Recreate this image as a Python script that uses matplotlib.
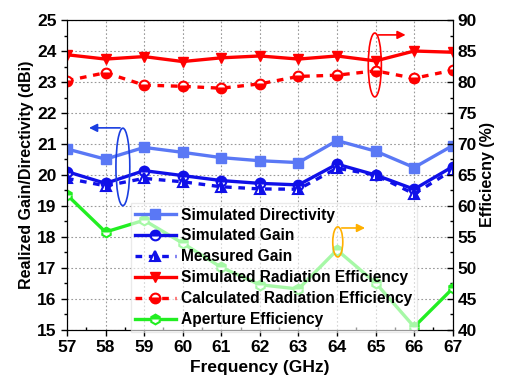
import numpy as np
import matplotlib
matplotlib.use("Agg")
import matplotlib.pyplot as plt
from matplotlib.patches import Ellipse

plt.rcParams['font.family'] = ['Liberation Sans', 'DejaVu Sans']
plt.rcParams['font.weight'] = 'bold'

freq = [57, 58, 59, 60, 61, 62, 63, 64, 65, 66, 67]

# left axis (dBi)
sim_dir = [20.84, 20.51, 20.89, 20.73, 20.56, 20.46, 20.40, 21.11, 20.77, 20.24, 20.95]
sim_gain = [20.11, 19.73, 20.14, 19.98, 19.82, 19.73, 19.68, 20.35, 20.00, 19.54, 20.27]
meas_gain = [19.89, 19.65, 19.89, 19.78, 19.62, 19.55, 19.54, 20.22, 20.00, 19.39, 20.16]

# right axis (%)
sim_rad_eff = [84.4, 83.7, 84.1, 83.3, 83.9, 84.2, 83.7, 84.2, 83.4, 85.0, 84.8]
calc_rad_eff = [80.2, 81.5, 79.5, 79.3, 79.0, 79.7, 80.9, 81.1, 81.8, 80.6, 81.9]
ap_eff = [61.8, 55.8, 57.7, 54.0, 50.1, 47.3, 46.6, 52.9, 47.6, 40.5, 46.7]

fig = plt.figure(figsize=(5.07, 3.85), dpi=100)
ax = fig.add_axes([0.132, 0.143, 0.761, 0.805])
ax2 = ax.twinx()

lw = 2.4
ms = 7
l1, = ax.plot(freq, sim_dir, color='#5a78f5', lw=lw, marker='s', ms=ms,
              label='Simulated Directivity')
l2, = ax.plot(freq, sim_gain, color='#1010e8', lw=lw, marker='o', ms=ms,
              fillstyle='top', markerfacecoloralt='white', mew=1.5,
              label='Simulated Gain')
l3, = ax.plot(freq, meas_gain, color='#1010e8', lw=lw, ls=(0, (2, 2)), marker='^', ms=ms,
              fillstyle='right', markerfacecoloralt='white', mew=1.5,
              label='Measured Gain')
l4, = ax2.plot(freq, sim_rad_eff, color='#ff0000', lw=lw, marker='v', ms=ms,
               label='Simulated Radiation Efficiency')
l5, = ax2.plot(freq, calc_rad_eff, color='#ff0000', lw=lw, ls=(0, (2, 2)), marker='o', ms=ms,
               fillstyle='bottom', markerfacecoloralt='white', mew=1.5,
               label='Calculated Radiation Efficiency')
l6, = ax2.plot(freq, ap_eff, color='#22ee22', lw=lw, marker='h', ms=ms,
               fillstyle='top', markerfacecoloralt='white', mew=1.5,
               label='Aperture Efficiency')

ax.set_xlim(57, 67)
ax.set_ylim(15, 25)
ax2.set_ylim(40, 90)
ax.set_xticks(range(57, 68))
ax.set_yticks(range(15, 26))
ax2.set_yticks(range(40, 91, 5))
ax.set_xticks(np.arange(57.5, 67, 1), minor=True)
ax.set_yticks(np.arange(15.5, 25, 1), minor=True)
ax2.set_yticks(np.arange(42.5, 90, 5), minor=True)

ax.grid(True, which='major', ls=(0, (1.5, 2)), color='#999999', lw=0.8)
ax.tick_params(axis='both', which='major', labelsize=12.5, length=4, width=1, direction='out')
ax.tick_params(axis='y', which='minor', length=2.5, width=1, direction='out')
ax.tick_params(axis='x', which='minor', length=2.5, width=1, direction='in')
ax2.tick_params(axis='y', which='major', labelsize=12.5, length=4, width=1, direction='in')
ax2.tick_params(axis='y', which='minor', length=2.5, width=1, direction='in')

ax.set_xlabel('Frequency (GHz)', fontsize=12.5, fontweight='bold', labelpad=3)
ax.set_ylabel('Realized Gain/Directivity (dBi)', fontsize=11.5, fontweight='bold', labelpad=2)
ax2.set_ylabel('Efficiecny (%)', fontsize=11.5, fontweight='bold', labelpad=2)

leg = ax2.legend(handles=[l1, l2, l3, l4, l5, l6], loc='upper left',
                 bbox_to_anchor=(0.165, 0.41), fontsize=11.2, handlelength=2.6,
                 labelspacing=0.38, borderpad=0.3, handletextpad=0.35,
                 borderaxespad=0.0,
                 fancybox=False, framealpha=0.6, edgecolor='#dddddd')
leg.set_zorder(5)

# annotation ellipses and arrows (drawn in left-axis data coords)
ann = [
    # (xc, yc, w, h, color, x0, x1, ya)
    (58.45, 20.26, 0.36, 2.5, '#1a3ee0', 58.45, 57.5, 21.52),
    (64.98, 23.55, 0.34, 2.06, '#ff0000', 65.0, 65.85, 24.52),
    (64.02, 17.84, 0.26, 0.97, '#ffb000', 64.05, 64.8, 18.29),
]
for xc, yc, w, h, c, x0, x1, ya in ann:
    e = Ellipse((xc, yc), w, h, fill=False, edgecolor=c, lw=1.2,
                transform=ax.transData, zorder=6)
    ax2.add_patch(e)
    ax2.annotate('', xy=(x1, ya), xytext=(x0, ya), xycoords=ax.transData,
                 textcoords=ax.transData, zorder=6,
                 arrowprops=dict(arrowstyle='-|>', color=c, lw=1.2, mutation_scale=12))

fig.savefig('out.png', dpi=100)
